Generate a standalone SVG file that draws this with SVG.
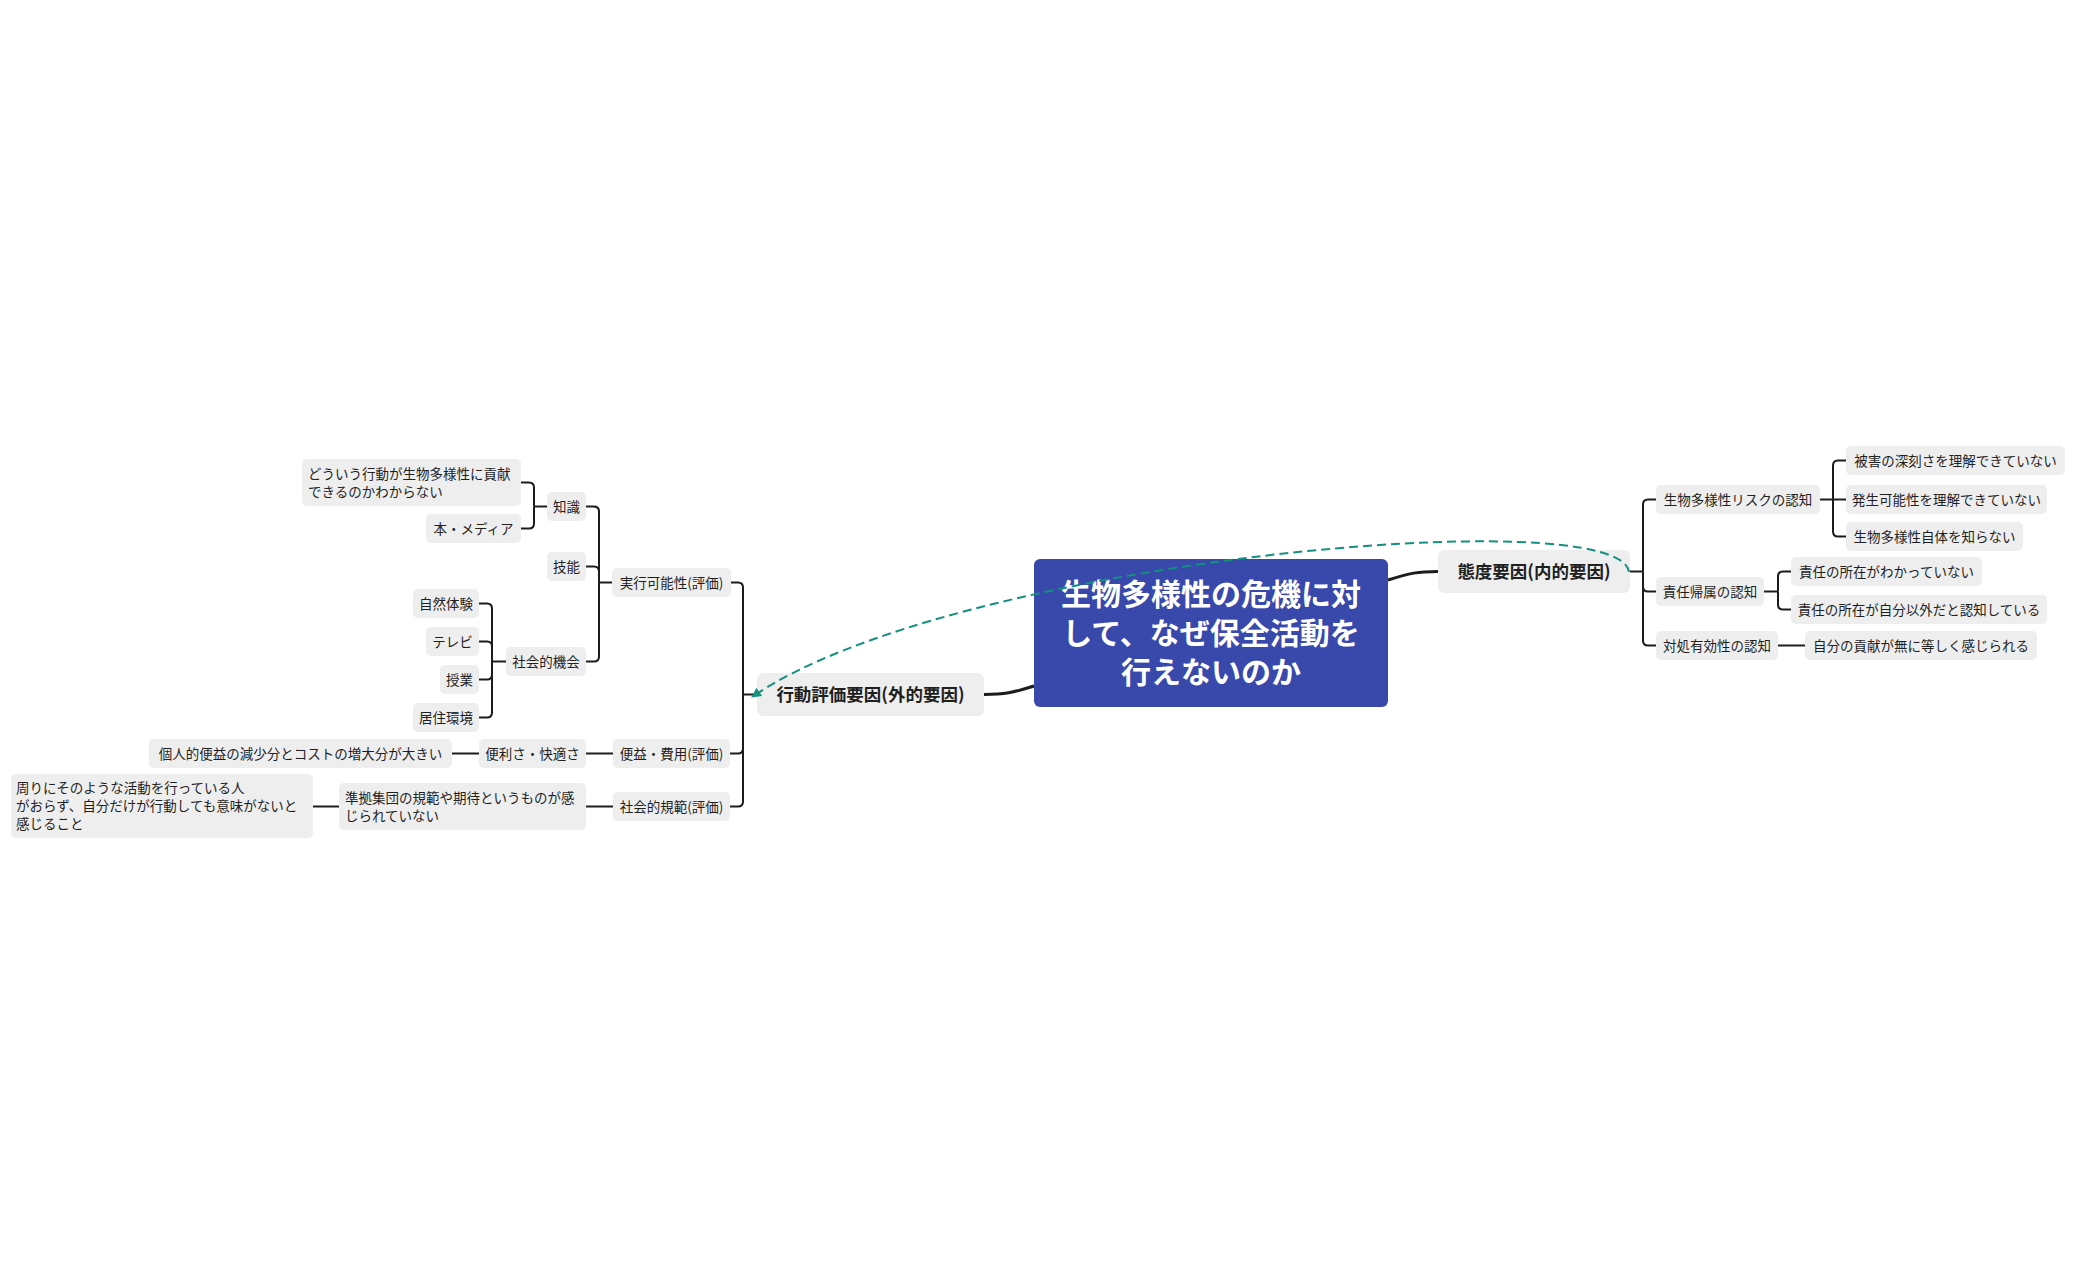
<svg xmlns="http://www.w3.org/2000/svg" width="2076" height="1285" viewBox="0 0 2076 1285">
<style>
text{font-family:"Noto Sans CJK JP","Noto Sans",sans-serif;fill:#1f1f1f}
.n rect{fill:#eeeeee}
.s{font-size:13.5px}
.m{text-anchor:middle}
.l1{font-size:17.5px;font-weight:bold;text-anchor:middle}
.c rect{fill:#3949ab}
.c text{fill:#ffffff;font-size:30px;font-weight:bold;text-anchor:middle}
.e path{fill:none;stroke:#1c1c1c;stroke-width:2}
.e .t{stroke-width:3}
.rel{fill:none;stroke:#13907f;stroke-width:2;stroke-dasharray:9 5}
</style>
<defs>
<marker id="ah" viewBox="0 0 10 10" refX="9" refY="5" markerWidth="5" markerHeight="5" orient="auto" markerUnits="strokeWidth">
<path d="M0,0 L10,5 L0,10 z" fill="#13907f"/>
</marker>
</defs>
<rect width="2076" height="1285" fill="#ffffff"/>
<g id="connectors" class="e">
<path class="t" d="M1388,580 C1410,573 1418,571.5 1438,571.5"/>
<path class="t" d="M984,694.5 C1008,694.5 1014,692 1034,686"/>
<!-- right bracket A -->
<path d="M1630,571.5 H1643"/>
<path d="M1656,499.5 H1648 Q1643,499.5 1643,504.5 V571.5"/>
<path d="M1656,591.5 H1648 Q1643,591.5 1643,586.5 V571.5"/>
<path d="M1656,645.5 H1648 Q1643,645.5 1643,640.5 V571.5"/>
<!-- bracket B -->
<path d="M1820,499.5 H1846"/>
<path d="M1846,460.5 H1838 Q1833,460.5 1833,465.5 V499.5"/>
<path d="M1846,536.5 H1838 Q1833,536.5 1833,531.5 V499.5"/>
<!-- bracket C -->
<path d="M1764,591.5 H1778"/>
<path d="M1791,571.5 H1783 Q1778,571.5 1778,576.5 V591.5"/>
<path d="M1791,609.5 H1783 Q1778,609.5 1778,604.5 V591.5"/>
<path d="M1778,645.5 H1805"/>
<!-- left bracket D -->
<path d="M757,694.5 H743"/>
<path d="M731,582.5 H738 Q743,582.5 743,587.5 V694.5"/>
<path d="M730,753.5 H738 Q743,753.5 743,748.5 V694.5"/>
<path d="M730,806.5 H738 Q743,806.5 743,801.5 V694.5"/>
<!-- bracket E -->
<path d="M612,582.5 H599"/>
<path d="M586,506.5 H594 Q599,506.5 599,511.5 V582.5"/>
<path d="M586,566.5 H594 Q599,566.5 599,571.5 V582.5"/>
<path d="M586,661.5 H594 Q599,661.5 599,656.5 V582.5"/>
<!-- bracket F -->
<path d="M547,506.5 H534"/>
<path d="M521,482.5 H529 Q534,482.5 534,487.5 V506.5"/>
<path d="M521,528.5 H529 Q534,528.5 534,523.5 V506.5"/>
<!-- bracket G -->
<path d="M506,661.5 H492"/>
<path d="M479,603.5 H487 Q492,603.5 492,608.5 V661.5"/>
<path d="M479,641.5 H487 Q492,641.5 492,646.5 V661.5"/>
<path d="M479,679.5 H487 Q492,679.5 492,674.5 V661.5"/>
<path d="M479,717.5 H487 Q492,717.5 492,712.5 V661.5"/>
<!-- straight -->
<path d="M613,753.5 H586"/>
<path d="M479,753.5 H452"/>
<path d="M613,806.5 H586"/>
<path d="M339,806.5 H313"/>
</g>
<g id="center" class="c">
<rect x="1034" y="559" width="354" height="148" rx="6"/>
<text x="1211" y="605">生物多様性の危機に対</text>
<text x="1211" y="644">して、なぜ保全活動を</text>
<text x="1211" y="683">行えないのか</text>
</g>
<g id="n-taido" class="n"><rect x="1438" y="550" width="192" height="43" rx="6"/><text class="l1" x="1534" y="578">態度要因(内的要因)</text></g>
<g id="n-koudou" class="n"><rect x="757" y="673" width="227" height="43" rx="6"/><text class="l1" x="870.5" y="701">行動評価要因(外的要因)</text></g>
<g id="n-risk" class="n"><rect x="1656" y="485" width="164" height="29" rx="5"/><text class="s m" x="1738" y="504.5">生物多様性リスクの認知</text></g>
<g id="n-sekinin" class="n"><rect x="1656" y="577" width="108" height="29" rx="5"/><text class="s m" x="1710" y="596.5">責任帰属の認知</text></g>
<g id="n-taisho" class="n"><rect x="1656" y="631" width="122" height="29" rx="5"/><text class="s m" x="1717" y="650.5">対処有効性の認知</text></g>
<g id="n-higai" class="n"><rect x="1846" y="446" width="219" height="29" rx="5"/><text class="s m" x="1955.5" y="465.5">被害の深刻さを理解できていない</text></g>
<g id="n-hassei" class="n"><rect x="1846" y="485" width="201" height="29" rx="5"/><text class="s m" x="1946.5" y="504.5">発生可能性を理解できていない</text></g>
<g id="n-jitai" class="n"><rect x="1846" y="522" width="177" height="29" rx="5"/><text class="s m" x="1934.5" y="541.5">生物多様性自体を知らない</text></g>
<g id="n-shozai1" class="n"><rect x="1791" y="557" width="191" height="29" rx="5"/><text class="s m" x="1886.5" y="576.5">責任の所在がわかっていない</text></g>
<g id="n-shozai2" class="n"><rect x="1791" y="595" width="256" height="29" rx="5"/><text class="s m" x="1919" y="614.5">責任の所在が自分以外だと認知している</text></g>
<g id="n-kouken" class="n"><rect x="1805" y="631" width="232" height="29" rx="5"/><text class="s m" x="1921" y="650.5">自分の貢献が無に等しく感じられる</text></g>
<g id="n-jikkou" class="n"><rect x="612" y="568" width="119" height="29" rx="5"/><text class="s m" x="671.5" y="587.5">実行可能性(評価)</text></g>
<g id="n-beneki" class="n"><rect x="613" y="739" width="117" height="29" rx="5"/><text class="s m" x="671.5" y="758.5">便益・費用(評価)</text></g>
<g id="n-kihan" class="n"><rect x="613" y="792" width="117" height="29" rx="5"/><text class="s m" x="671.5" y="811.5">社会的規範(評価)</text></g>
<g id="n-chishiki" class="n"><rect x="547" y="492" width="39" height="29" rx="5"/><text class="s m" x="566.5" y="511.5">知識</text></g>
<g id="n-ginou" class="n"><rect x="547" y="552" width="39" height="29" rx="5"/><text class="s m" x="566.5" y="571.5">技能</text></g>
<g id="n-kikai" class="n"><rect x="506" y="647" width="80" height="29" rx="5"/><text class="s m" x="546" y="666.5">社会的機会</text></g>
<g id="n-douiu" class="n"><rect x="302" y="459" width="219" height="47" rx="5"/><text class="s" x="308" y="478.5">どういう行動が生物多様性に貢献</text><text class="s" x="308" y="496.5">できるのかわからない</text></g>
<g id="n-hon" class="n"><rect x="426" y="514" width="95" height="29" rx="5"/><text class="s m" x="473.5" y="533.5">本・メディア</text></g>
<g id="n-shizen" class="n"><rect x="413" y="589" width="66" height="29" rx="5"/><text class="s m" x="446" y="608.5">自然体験</text></g>
<g id="n-tv" class="n"><rect x="426" y="627" width="53" height="29" rx="5"/><text class="s m" x="452.5" y="646.5">テレビ</text></g>
<g id="n-jugyou" class="n"><rect x="440" y="665" width="39" height="29" rx="5"/><text class="s m" x="459.5" y="684.5">授業</text></g>
<g id="n-kyojuu" class="n"><rect x="413" y="703" width="66" height="29" rx="5"/><text class="s m" x="446" y="722.5">居住環境</text></g>
<g id="n-benri" class="n"><rect x="479" y="739" width="107" height="29" rx="5"/><text class="s m" x="532.5" y="758.5">便利さ・快適さ</text></g>
<g id="n-kojin" class="n"><rect x="149" y="739" width="303" height="29" rx="5"/><text class="s m" x="300.5" y="758.5">個人的便益の減少分とコストの増大分が大きい</text></g>
<g id="n-junkyo" class="n"><rect x="339" y="783" width="247" height="47" rx="5"/><text class="s" x="345" y="802.5">準拠集団の規範や期待というものが感</text><text class="s" x="345" y="820.5">じられていない</text></g>
<g id="n-mawari" class="n"><rect x="11" y="774" width="302" height="64" rx="5"/><text class="s" x="16" y="793">周りにそのような活動を行っている人</text><text class="s" x="16" y="811">がおらず、自分だけが行動しても意味がないと</text><text class="s" x="16" y="829">感じること</text></g>
<g id="relation">
<path class="rel" d="M1629,572 C1620,500 950,560 752,697" marker-end="url(#ah)"/>
</g>
</svg>
